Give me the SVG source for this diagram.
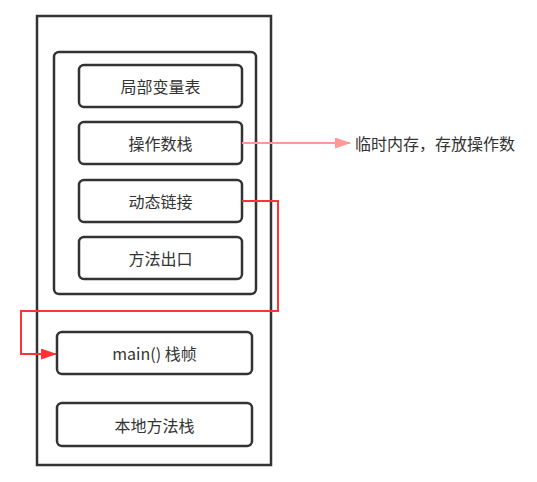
<svg xmlns="http://www.w3.org/2000/svg" width="537" height="482" viewBox="0 0 537 482">
<style>
.box{fill:#fff;stroke:#333;stroke-width:2.5}
.lbl{font-family:"Noto Sans CJK SC","Liberation Sans",sans-serif;font-size:16px;fill:#333;text-anchor:middle;dominant-baseline:central}
</style>
<defs>
<marker id="ap" viewBox="0 0 16 11" refX="15" refY="5.5" markerWidth="16" markerHeight="11" markerUnits="userSpaceOnUse" orient="auto"><path d="M0,0 L16,5.5 L0,11 Z" fill="#FF9999"/></marker>
<marker id="ar" viewBox="0 0 16 11" refX="15" refY="5.5" markerWidth="16" markerHeight="11" markerUnits="userSpaceOnUse" orient="auto"><path d="M0,0 L16,5.5 L0,11 Z" fill="#FF3333"/></marker>
</defs>
<g id="jvm-stack"><rect x="37" y="16" width="234" height="449" fill="#fff" stroke="#333" stroke-width="2.5"/></g>
<g id="frame"><rect class="box" x="54" y="52" width="202" height="242" rx="5"/></g>
<g id="local-vars"><rect class="box" x="79" y="65" width="163" height="42" rx="5"/><text class="lbl" x="160.5" y="86">局部变量表</text></g>
<g id="operand-stack"><rect class="box" x="79" y="122" width="163" height="42" rx="5"/><text class="lbl" x="160.5" y="143">操作数栈</text></g>
<g id="dynamic-link"><rect class="box" x="79" y="180" width="163" height="42" rx="5"/><text class="lbl" x="160.5" y="201">动态链接</text></g>
<g id="method-exit"><rect class="box" x="79" y="237" width="163" height="42" rx="5"/><text class="lbl" x="160.5" y="258">方法出口</text></g>
<g id="main-frame"><rect class="box" x="57" y="332" width="195" height="42" rx="5"/><text class="lbl" x="154.5" y="353">main() 栈帧</text></g>
<g id="native-stack"><rect class="box" x="57" y="403" width="195" height="43" rx="5"/><text class="lbl" x="154.5" y="424.5">本地方法栈</text></g>
<g id="note"><text class="lbl" x="355" y="143" style="text-anchor:start">临时内存，存放操作数</text></g>
<g id="connectors" fill="none" stroke-width="2">
<path d="M242,143 L350,143" stroke="#FF9999" marker-end="url(#ap)"/>
<path d="M242,201 L278,201 L278,311 L21,311 L21,354 L56,354" stroke="#FF3333" marker-end="url(#ar)"/>
</g>
</svg>
